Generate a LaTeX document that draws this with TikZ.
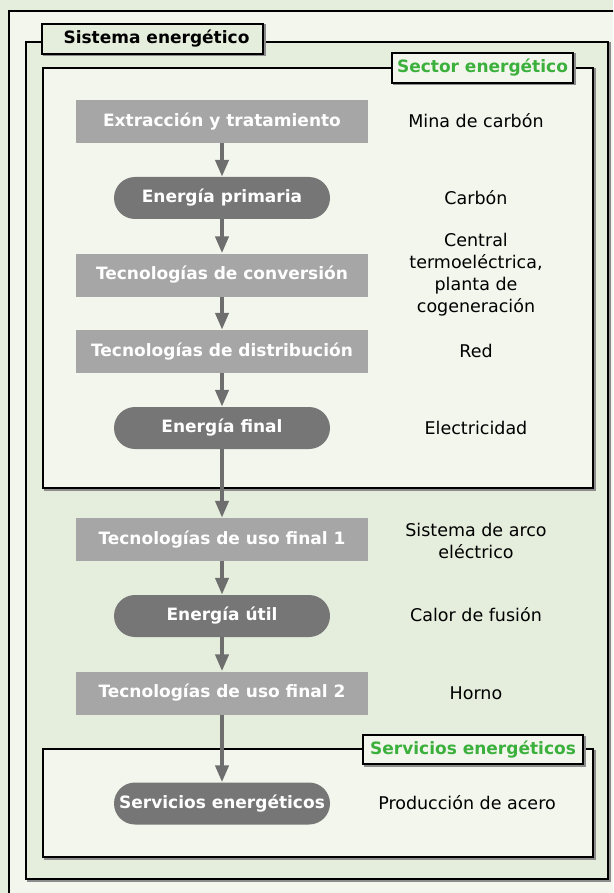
\documentclass[tikz,border=0pt]{standalone}
\usepackage{fontspec}
\setmainfont{DejaVu Sans}
\usetikzlibrary{arrows.meta}

\definecolor{paleGreen}{HTML}{E5EEDC}
\definecolor{paleWhite}{HTML}{F3F6ED}
\definecolor{techGray}{HTML}{A6A6A6}
\definecolor{formGray}{HTML}{767676}
\definecolor{flowGray}{HTML}{6E6E6E}
\definecolor{tagGreen}{HTML}{3CB03C}

\tikzset{
  tech/.style = {fill = techGray, text = white, minimum width = 292pt, minimum height = 43pt, inner sep = 0pt, font = \bfseries\fontsize{17}{20}\selectfont},
  form/.style = {fill = formGray, text = white, rounded corners = 21pt, minimum width = 216pt, minimum height = 42pt, inner sep = 0pt, font = \bfseries\fontsize{17}{20}\selectfont},
  example/.style = {align = center, inner sep = 0pt, font = \fontsize{17.5}{22}\selectfont},
  flow/.style = {draw = flowGray, line width = 4pt, -{Triangle[width = 13pt, length = 17pt]}},
  frame/.style = {draw = black, line width = 2pt},
  frameshade/.style = {draw = black!45, line width = 2pt, shift = {(1.5,1.5)}},
  tag/.style = {draw = black, line width = 2pt, minimum height = 30pt, inner sep = 0pt, font = \bfseries\fontsize{17}{20}\selectfont}
}

\begin{document}
\begin{tikzpicture}[x = 1pt, y = -1pt]
\useasboundingbox (0,0) rectangle (613,893);
\clip (0,0) rectangle (613,893);
\fill[paleGreen] (0,0) rectangle (613,893);

% frames
\filldraw[frame, fill = paleWhite] (9,11) rectangle (640,920);
\draw[frameshade] (26,42) rectangle (608,879);
\filldraw[frame, fill = paleGreen] (26,42) rectangle (608,879);
\draw[frameshade] (43,68) rectangle (593,488);
\filldraw[frame, fill = paleWhite] (43,68) rectangle (593,488);
\draw[frameshade] (43,749) rectangle (593,857);
\filldraw[frame, fill = paleWhite] (43,749) rectangle (593,857);

\draw[frameshade] (42,24) rectangle (263,54);
\node[tag, fill = paleGreen, minimum width = 221pt] (system) at (152.5,39) {\hspace{8pt}Sistema energético};
\draw[frameshade] (392,53) rectangle (573,83);
\node[tag, fill = paleWhite, text = tagGreen, minimum width = 181pt] (sector) at (482.5,68) {Sector energético};
\draw[frameshade] (363,735) rectangle (583,764);
\node[tag, fill = paleWhite, text = tagGreen, minimum width = 220pt, minimum height = 29pt] (servtag) at (473,749.5) {Servicios energéticos};

% chain
\node[tech] (extraction) at (222,121.5) {Extracción y tratamiento};
\node[form] (primary) at (222,198) {Energía primaria};
\node[tech] (conversion) at (222,275) {Tecnologías de conversión};
\node[tech] (distribution) at (222,351.5) {Tecnologías de distribución};
\node[form] (final) at (222,428) {Energía final};
\node[tech] (useone) at (222,539.5) {Tecnologías de uso final 1};
\node[form] (useful) at (222,616) {Energía útil};
\node[tech] (usetwo) at (222,693) {Tecnologías de uso final 2};
\node[form] (services) at (222,803.5) {Servicios energéticos};

\draw[flow] (extraction) -- (primary);
\draw[flow] (primary) -- (conversion);
\draw[flow] (conversion) -- (distribution);
\draw[flow] (distribution) -- (final);
\draw[flow] (final) -- (useone);
\draw[flow] (useone) -- (useful);
\draw[flow] (useful) -- (usetwo);
\draw[flow] (usetwo) -- (services);

% examples
\node[example] (mine) at (476,121) {Mina de carbón};
\node[example] (coal) at (476,198) {Carbón};
\node[example] (plant) at (476,275) {Central\\termoeléctrica,\\planta de\\cogeneración};
\node[example] (grid) at (476,351) {Red};
\node[example] (power) at (476,428) {Electricidad};
\node[example] (arc) at (476,541) {Sistema de arco\\eléctrico};
\node[example] (heat) at (476,615) {Calor de fusión};
\node[example] (furnace) at (476,693) {Horno};
\node[example] (steel) at (467,803) {Producción de acero};
\end{tikzpicture}
\end{document}
